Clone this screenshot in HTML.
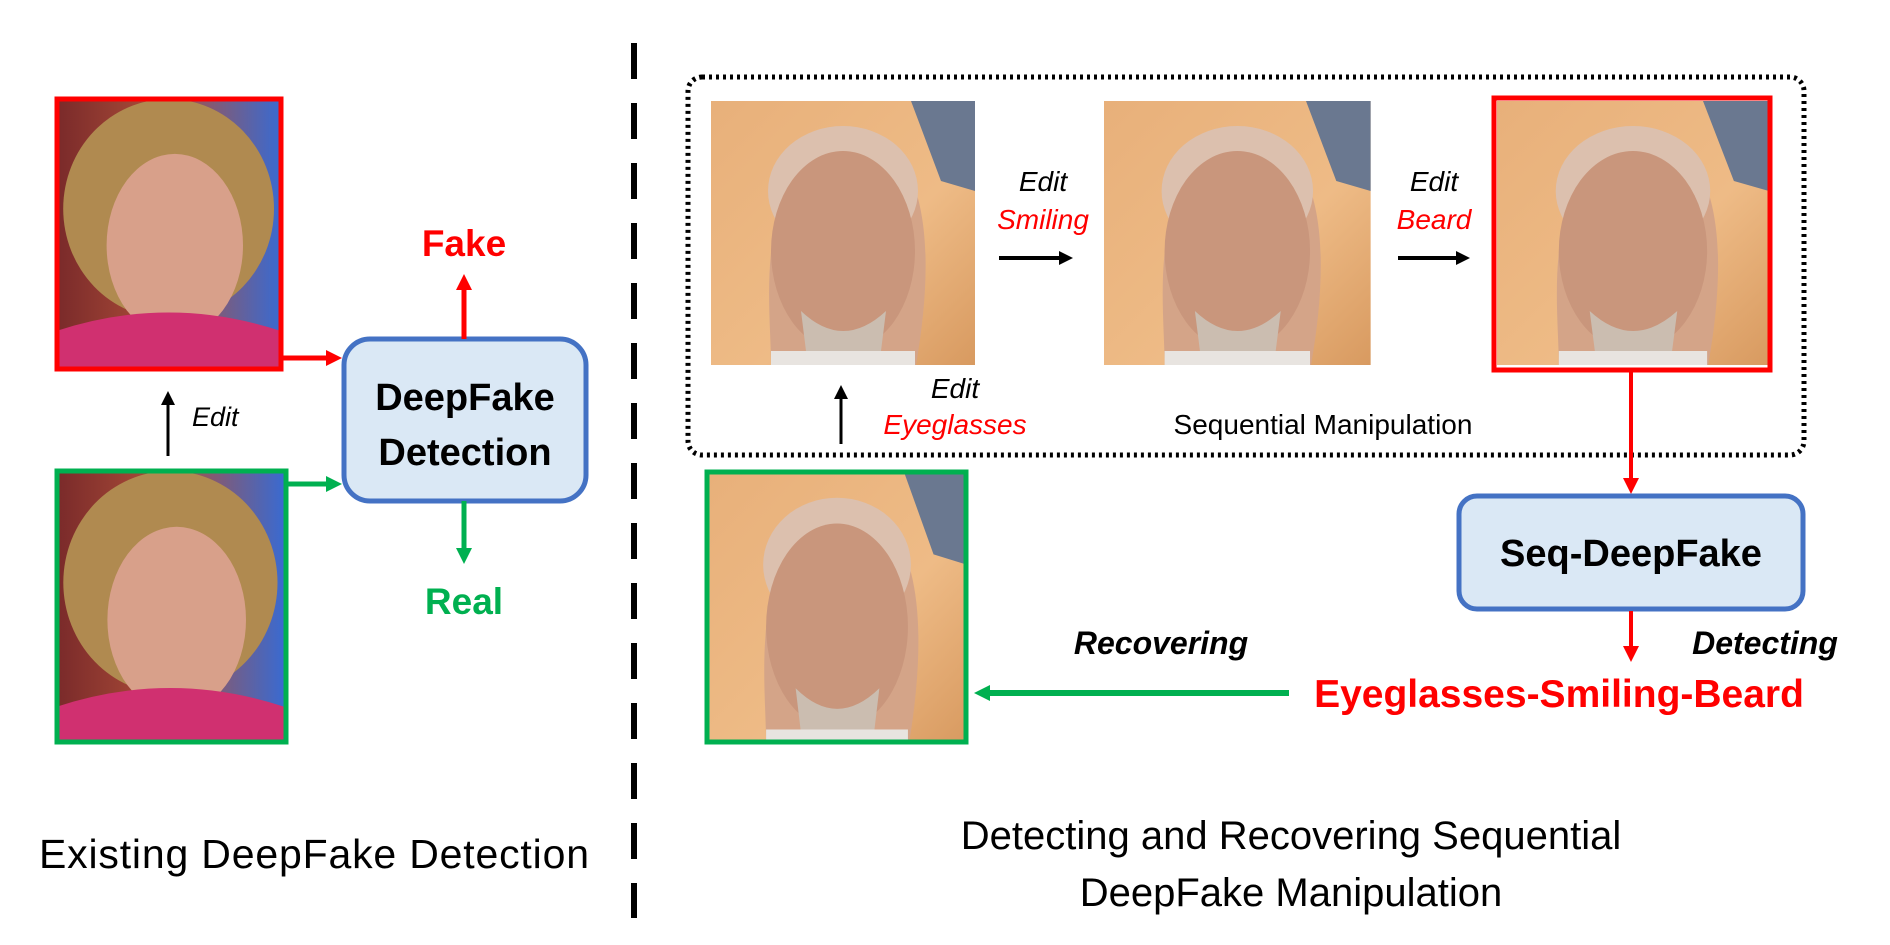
<!DOCTYPE html>
<html><head><meta charset="utf-8"><style>
html,body{margin:0;padding:0;background:#fff;}
svg{display:block}
text{font-family:"Liberation Sans","DejaVu Sans",sans-serif;}
</style></head><body>
<svg width="1890" height="945" viewBox="0 0 1890 945" xmlns="http://www.w3.org/2000/svg">
<defs>
<marker id="ak" markerWidth="14" markerHeight="14" refX="7" refY="7" orient="auto" markerUnits="userSpaceOnUse" viewBox="0 0 14 14"><path d="M0,0 L14,7 L0,14 z" fill="#000"/></marker>
<marker id="ar" markerWidth="16" markerHeight="16" refX="8" refY="8" orient="auto" markerUnits="userSpaceOnUse" viewBox="0 0 16 16"><path d="M0,0 L16,8 L0,16 z" fill="#f00"/></marker>
<marker id="ag" markerWidth="16" markerHeight="16" refX="8" refY="8" orient="auto" markerUnits="userSpaceOnUse" viewBox="0 0 16 16"><path d="M0,0 L16,8 L0,16 z" fill="#00b050"/></marker>
<linearGradient id="bgO" x1="0" y1="0" x2="1" y2="1"><stop offset="0" stop-color="#e8b07a"/><stop offset="0.6" stop-color="#eebb86"/><stop offset="1" stop-color="#d89a60"/></linearGradient>
<linearGradient id="bgW" x1="0" y1="0" x2="1" y2="0"><stop offset="0" stop-color="#7a2a2a"/><stop offset="0.5" stop-color="#b0503a"/><stop offset="1" stop-color="#3a6ad0"/></linearGradient>
<g id="man">
<rect width="264" height="264" fill="url(#bgO)"/>
<path d="M200 0 H264 V90 L230 80 Z" fill="#6a7890"/>
<path d="M60 264 C60 200 40 80 130 30 C220 30 225 150 205 264 Z" fill="#d4a488"/>
<ellipse cx="132" cy="90" rx="75" ry="65" fill="#dcc0ae"/>
<ellipse cx="132" cy="150" rx="72" ry="100" fill="#c9967c"/>
<path d="M90 210 Q132 250 175 210 L170 250 Q132 270 95 250 Z" fill="#cbbdb0"/>
<rect x="60" y="250" width="144" height="14" fill="#e8e4e0"/>
</g>
<g id="woman">
<rect width="180" height="220" fill="url(#bgW)"/>
<ellipse cx="90" cy="90" rx="85" ry="90" fill="#b08a50"/>
<ellipse cx="95" cy="120" rx="55" ry="75" fill="#d8a08a"/>
<path d="M0 220 L0 190 Q90 160 180 190 L180 220 Z" fill="#d03070"/>
</g>
</defs>

<use href="#woman" transform="translate(57,99) scale(1.24,1.22)"/>
<rect x="57" y="99" width="224" height="270" fill="none" stroke="#f00" stroke-width="5"/>
<use href="#woman" transform="translate(57,471) scale(1.26,1.24)"/>
<rect x="57" y="471" width="229" height="271" fill="none" stroke="#00b050" stroke-width="5"/>

<line x1="168" y1="456" x2="168" y2="398" stroke="#000" stroke-width="3" marker-end="url(#ak)"/>
<text x="192" y="426" font-size="27" font-style="italic">Edit</text>

<rect x="344" y="339" width="242" height="162" rx="26" fill="#dae8f5" stroke="#4472c4" stroke-width="5"/>
<text x="465" y="410" font-size="38" font-weight="bold" text-anchor="middle">DeepFake</text>
<text x="465" y="465" font-size="38" font-weight="bold" text-anchor="middle">Detection</text>

<line x1="281" y1="358" x2="334" y2="358" stroke="#f00" stroke-width="5" marker-end="url(#ar)"/>
<line x1="286" y1="484" x2="334" y2="484" stroke="#00b050" stroke-width="5" marker-end="url(#ag)"/>
<line x1="464" y1="339" x2="464" y2="282" stroke="#f00" stroke-width="5" marker-end="url(#ar)"/>
<line x1="464" y1="501" x2="464" y2="556" stroke="#00b050" stroke-width="5" marker-end="url(#ag)"/>
<text x="464" y="256" font-size="37" font-weight="bold" fill="#f00" text-anchor="middle">Fake</text>
<text x="464" y="614" font-size="37" font-weight="bold" fill="#00b050" text-anchor="middle">Real</text>

<text x="314" y="868" font-size="41" text-anchor="middle" textLength="550">Existing DeepFake Detection</text>

<line x1="634" y1="43" x2="634" y2="918" stroke="#000" stroke-width="6" stroke-dasharray="36,24"/>

<rect x="688" y="77" width="1116" height="378" rx="14" fill="none" stroke="#000" stroke-width="5" stroke-dasharray="3,4"/>
<use href="#man" transform="translate(711,101)"/>
<use href="#man" transform="translate(1104,101) scale(1.01,1)"/>
<use href="#man" transform="translate(1497,101) scale(1.03,1.0)"/>
<rect x="1494" y="98" width="276" height="272" fill="none" stroke="#f00" stroke-width="5"/>

<text x="1043" y="191" font-size="28" font-style="italic" text-anchor="middle">Edit</text>
<text x="1043" y="229" font-size="28" font-style="italic" fill="#f00" text-anchor="middle">Smiling</text>
<line x1="999" y1="258" x2="1066" y2="258" stroke="#000" stroke-width="4" marker-end="url(#ak)"/>
<text x="1434" y="191" font-size="28" font-style="italic" text-anchor="middle">Edit</text>
<text x="1434" y="229" font-size="28" font-style="italic" fill="#f00" text-anchor="middle">Beard</text>
<line x1="1398" y1="258" x2="1463" y2="258" stroke="#000" stroke-width="4" marker-end="url(#ak)"/>

<line x1="841" y1="444" x2="841" y2="392" stroke="#000" stroke-width="3" marker-end="url(#ak)"/>
<text x="955" y="398" font-size="28" font-style="italic" text-anchor="middle">Edit</text>
<text x="955" y="434" font-size="28" font-style="italic" fill="#f00" text-anchor="middle">Eyeglasses</text>
<text x="1323" y="434" font-size="28" text-anchor="middle">Sequential  Manipulation</text>

<line x1="1631" y1="372" x2="1631" y2="486" stroke="#f00" stroke-width="4" marker-end="url(#ar)"/>
<rect x="1459" y="496" width="344" height="113" rx="18" fill="#dae8f5" stroke="#4472c4" stroke-width="5"/>
<text x="1631" y="566" font-size="38" font-weight="bold" text-anchor="middle">Seq-DeepFake</text>
<line x1="1631" y1="611" x2="1631" y2="654" stroke="#f00" stroke-width="4" marker-end="url(#ar)"/>
<text x="1765" y="654" font-size="32" font-weight="bold" font-style="italic" text-anchor="middle">Detecting</text>
<text x="1559" y="707" font-size="39" font-weight="bold" fill="#f00" text-anchor="middle">Eyeglasses-Smiling-Beard</text>

<line x1="1289" y1="693" x2="982" y2="693" stroke="#00b050" stroke-width="6" marker-end="url(#ag)"/>
<text x="1161" y="654" font-size="32" font-weight="bold" font-style="italic" text-anchor="middle">Recovering</text>

<use href="#man" transform="translate(707,472) scale(0.985,1.03)"/>
<rect x="707" y="472" width="259" height="270" fill="none" stroke="#00b050" stroke-width="5"/>

<text x="1291" y="849" font-size="40" text-anchor="middle">Detecting and Recovering Sequential</text>
<text x="1291" y="906" font-size="40" text-anchor="middle">DeepFake Manipulation</text>
</svg>
</body></html>
